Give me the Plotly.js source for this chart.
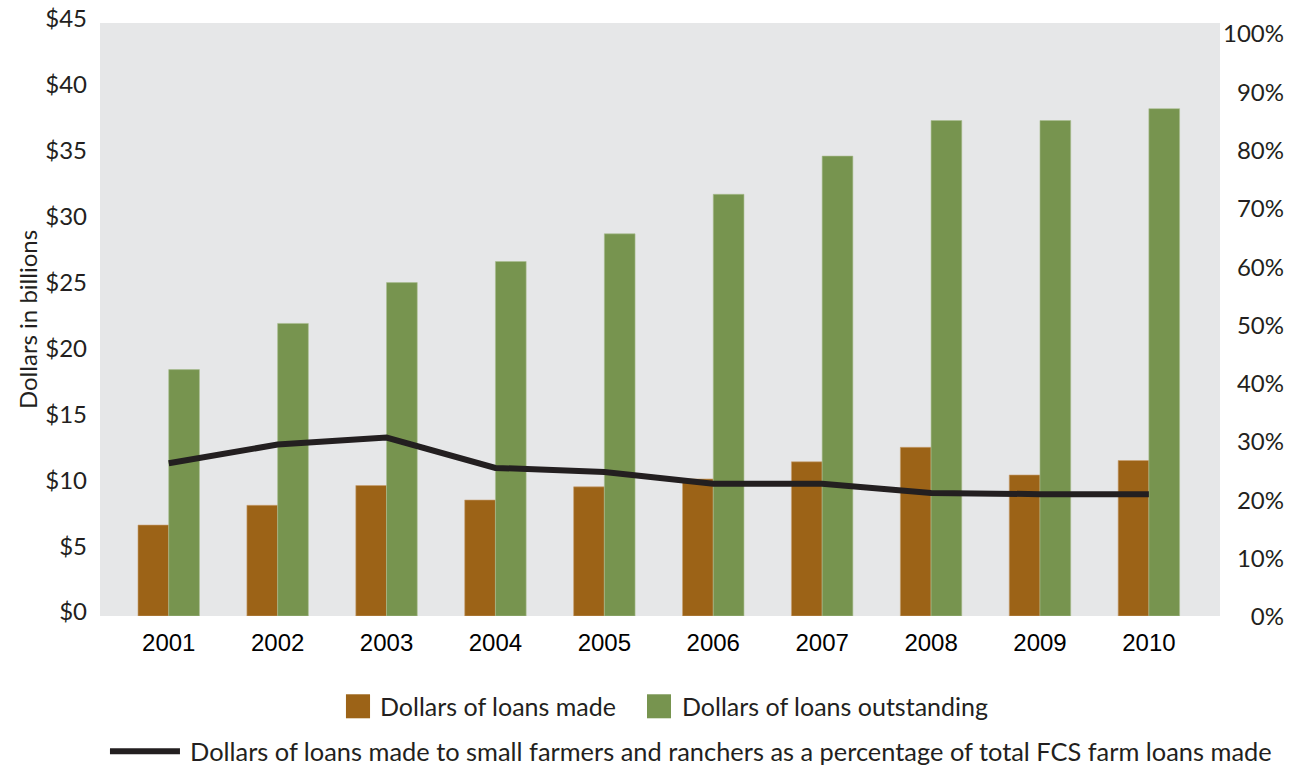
<!DOCTYPE html>
<html>
<head>
<meta charset="utf-8">
<script src="https://cdn.plot.ly/plotly-3.0.1.min.js"></script>
<style>html,body{margin:0;padding:0;background:#fff;}#chart{width:1297px;height:767px;}</style>
</head>
<body>
<div id="chart"></div>
<script>
const years = ['2001','2002','2003','2004','2005','2006','2007','2008','2009','2010'];
const loansMade = [6.9, 8.4, 9.9, 8.8, 9.8, 10.4, 11.7, 12.8, 10.7, 11.8];
const loansOutstanding = [18.7, 22.2, 25.3, 26.9, 29.0, 32.0, 34.9, 37.6, 37.6, 38.5];
const smallFarmerPct = [26.2, 29.4, 30.6, 25.4, 24.7, 22.7, 22.7, 21.1, 20.9, 20.9];
const leftTicks = [0, 5, 10, 15, 20, 25, 30, 35, 40, 45];
const leftTickText = ['$0', '$5', '$10', '$15', '$20', '$25', '$30', '$35', '$40', '$45'];
const rightTicks = [0, 10, 20, 30, 40, 50, 60, 70, 80, 90, 100];
const rightTickText = ['0%', '10%', '20%', '30%', '40%', '50%', '60%', '70%', '80%', '90%', '100%'];
const seriesNames = ['Dollars of loans made', 'Dollars of loans outstanding',
  'Dollars of loans made to small farmers and ranchers as a percentage of total FCS farm loans made'];

const BROWN = '#9C6317';
const GREEN = '#77944F';
const DARK = '#231F20';
const TXT = 'Lato, "Open Sans", sans-serif';

// right-align the right-hand labels by padding with figure spaces
const FS = '\u2007';
const maxLen = Math.max(...rightTickText.map(s => s.length));
const rightTickPadded = rightTickText.map(s => FS.repeat(maxLen - s.length) + s);

const traces = [
  {type:'bar', x: years, y: loansMade, name: seriesNames[0], marker:{color: BROWN, line:{color:'#C8A070', width:0.6}}, yaxis:'y', xaxis:'x'},
  {type:'bar', x: years, y: loansOutstanding, name: seriesNames[1], marker:{color: GREEN, line:{color:'#A9BE90', width:0.6}}, yaxis:'y', xaxis:'x'},
  {type:'scatter', mode:'lines', x: years, y: smallFarmerPct, name: seriesNames[2], line:{color: DARK, width:6}, yaxis:'y2', xaxis:'x'}
];

const legendShapes = [
  {type:'rect', xref:'paper', yref:'paper', x0:0.2196, x1:0.2411, y0:-0.1725, y1:-0.1320, fillcolor: BROWN, line:{width:0}},
  {type:'rect', xref:'paper', yref:'paper', x0:0.4884, x1:0.5098, y0:-0.1725, y1:-0.1320, fillcolor: GREEN, line:{width:0}},
  {type:'line', xref:'paper', yref:'paper', x0:0.0089, x1:0.0714, y0:-0.2281, y1:-0.2281, line:{color: DARK, width:6}}
];
const legendAnn = [
  {xref:'paper', yref:'paper', x:0.2482, y:-0.1522, xanchor:'left', yanchor:'middle', text: seriesNames[0], showarrow:false, font:{family:TXT, size:25, color:DARK}},
  {xref:'paper', yref:'paper', x:0.5179, y:-0.1522, xanchor:'left', yanchor:'middle', text: seriesNames[1], showarrow:false, font:{family:TXT, size:25, color:DARK}},
  {xref:'paper', yref:'paper', x:0.0786, y:-0.2281, xanchor:'left', yanchor:'middle', text: seriesNames[2], showarrow:false, font:{family:TXT, size:25.4, color:DARK}}
];

const layout = {
  width:1297, height:767,
  margin:{l:100, r:77, t:22.5, b:151.3, pad:0},
  paper_bgcolor:'#FFFFFF',
  plot_bgcolor:'#E6E7E8',
  showlegend:false,
  barmode:'group',
  bargap:0.436,
  bargroupgap:0,
  xaxis:{type:'category', range:[-0.631, 9.653], showgrid:false, zeroline:false, showline:false, ticks:'',
    tickfont:{family:'"Liberation Sans", Arial, sans-serif', size:24, color:'#000'}, ticklabelstandoff:10, fixedrange:true},
  yaxis:{range:[0,45], tickvals:leftTicks, ticktext:leftTickText, showgrid:false, zeroline:false, showline:false, ticks:'',
    tickfont:{family:TXT, size:24, color:DARK}, ticklabelstandoff:12, ticklabelshift:-4,
    title:{text:'Dollars in billions', font:{family:TXT, size:24, color:DARK}, standoff:0}, fixedrange:true},
  yaxis2:{overlaying:'y', side:'right', range:[0,101.7], tickvals:rightTicks, ticktext:rightTickPadded, showgrid:false, zeroline:false, showline:false, ticks:'',
    ticklabelstandoff:2, ticklabelshift:1,
    tickfont:{family:TXT, size:24, color:DARK}, fixedrange:true},
  shapes: legendShapes,
  annotations: legendAnn
};

Plotly.newPlot('chart', traces, layout, {displayModeBar:false, staticPlot:true});
</script>
</body>
</html>
